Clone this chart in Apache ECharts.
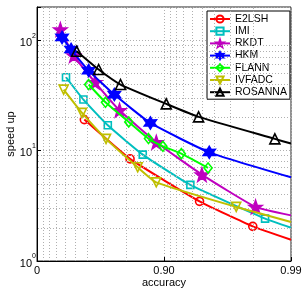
<!DOCTYPE html>
<html>
<head>
<meta charset="utf-8">
<script src="https://cdn.jsdelivr.net/npm/echarts@6/dist/echarts.min.js"></script>
<style>html,body{margin:0;padding:0;background:#fff}#c{width:305px;height:291px}</style>
</head>
<body>
<div id="c"></div>
<script>
// ---- data (accuracy, speed up) ----
const seriesNames = ['E2LSH', 'IMI', 'RKDT', 'HKM', 'FLANN', 'IVFADC', 'ROSANNA'];
const accE2LSH   = [0.576, 0.815, 0.9475, 0.980, 0.99];
const spdE2LSH   = [19.1, 8.41, 3.47, 2.06, 1.56];
const accIMI     = [0.409, 0.569, 0.723, 0.853, 0.938, 0.984, 0.99];
const spdIMI     = [46.2, 29.0, 16.96, 9.20, 4.89, 2.42, 2.0];
const accRKDT    = [0.345, 0.487, 0.651, 0.776, 0.885, 0.9497, 0.981, 0.99];
const spdRKDT    = [125, 72.6, 41.6, 23.2, 11.9, 6.06, 3.09, 2.59];
const accHKM     = [0.365, 0.461, 0.608, 0.754, 0.872, 0.956, 0.99];
const spdHKM     = [106, 82.4, 53.1, 32.2, 17.8, 9.65, 5.73];
const accFLANN   = [0.608, 0.711, 0.8105, 0.8675, 0.898, 0.927, 0.955];
const spdFLANN   = [39.7, 27.4, 18.2, 12.85, 10.94, 9.39, 6.97];
const accIVFADC  = [0.383, 0.558, 0.714, 0.839, 0.885, 0.973, 0.99];
const spdIVFADC  = [35.7, 21.97, 12.77, 7.06, 5.16, 3.09, 2.26];
const accROSANNA = [0.513, 0.673, 0.780, 0.904, 0.9466, 0.9866, 0.99];
const spdROSANNA = [79.5, 54.3, 39.7, 26.5, 20.2, 12.77, 11.58];
const xTickLabels = ['0', '0.90', '0.99'];   // at accuracy 0, 0.9, 0.99
const yTickExponents = ['0', '1', '2'];      // 10^0, 10^1, 10^2

// ---- styles ----
const colors = ['#ff0000', '#00bfbf', '#bf00bf', '#0000ff', '#00ff00', '#bfbf00', '#000000'];
function starPath(n, rIn) {
  let s = 'path://';
  for (let i = 0; i < 2 * n; i++) {
    const a = -Math.PI / 2 + i * Math.PI / n;
    const r = i % 2 === 0 ? 1 : rIn;
    s += (i === 0 ? 'M' : 'L') + (r * Math.cos(a)).toFixed(4) + ',' + (r * Math.sin(a)).toFixed(4) + ' ';
  }
  return s + 'Z';
}
const symbols = ['circle', 'rect', starPath(5, 0.4), starPath(6, 0.55), 'diamond', 'triangle', 'triangle'];
const symbolSizes = [8, 7, 13, 12, [8, 10], 9, 10];
const symbolRotates = [0, 0, 0, 0, 0, 180, 0];
const filled = [false, false, true, true, false, false, false];
const lastIsLineEnd = [true, true, true, true, false, true, true];

const accs = [accE2LSH, accIMI, accRKDT, accHKM, accFLANN, accIVFADC, accROSANNA];
const spds = [spdE2LSH, spdIMI, spdRKDT, spdHKM, spdFLANN, spdIVFADC, spdROSANNA];

const gridGray = '#b0b0b0';
const minorX = [], minorY = [];
for (const d of [0.01, 0.1]) for (let k = 2; k <= 9; k++) minorX.push({xAxis: +(k * d).toFixed(3)});
for (const d of [1, 10]) for (let k = 2; k <= 9; k++) minorY.push({yAxis: k * d});

const series = [{
  type: 'line', name: '_grid', data: [], silent: true, z: 1,
  markLine: {
    silent: true, symbol: 'none', animation: false, label: {show: false},
    lineStyle: {color: gridGray, type: [1, 2], width: 1},
    emphasis: {disabled: true},
    data: minorX.concat(minorY)
  }
}];
seriesNames.forEach((name, i) => {
  const data = accs[i].map((a, j) => {
    const item = {value: [1 - a, spds[i][j]]};
    if (lastIsLineEnd[i] && j === accs[i].length - 1) item.symbol = 'none';
    return item;
  });
  series.push({
    type: 'line', name: name, data: data, z: 3 + i,
    color: colors[i],
    symbol: symbols[i], symbolSize: symbolSizes[i], symbolRotate: symbolRotates[i],
    showAllSymbol: true, smooth: 0.15, animation: false,
    lineStyle: {color: colors[i], width: 2},
    itemStyle: {color: filled[i] ? colors[i] : 'rgba(255,255,255,0)', borderColor: colors[i], borderWidth: 1.6},
    emphasis: {disabled: true}
  });
});

const chart = echarts.init(document.getElementById('c'), null, {renderer: 'canvas'});
chart.setOption({
  animation: false,
  backgroundColor: '#fff',
  grid: {left: 37, right: 14, top: 7, bottom: 30, show: true, borderColor: '#222', borderWidth: 1,
         backgroundColor: 'transparent', containLabel: false, outerBoundsMode: 'none'},
  legend: {
    data: seriesNames, orient: 'vertical', left: 207, top: 11,
    backgroundColor: '#fff', borderColor: '#000', borderWidth: 1,
    padding: [2, 3, 1, 2], itemWidth: 20, itemHeight: 9, itemGap: 0.2,
    textStyle: {fontFamily: 'Liberation Sans', fontSize: 10.5, color: '#000', lineHeight: 12},
    selectedMode: false
  },
  xAxis: {
    type: 'log', logBase: 10, inverse: true, min: 0.01, max: 1,
    name: 'accuracy', nameLocation: 'middle', nameGap: 16, nameMoveOverlap: false,
    nameTextStyle: {fontFamily: 'Liberation Sans', fontSize: 11, color: '#000'},
    axisLine: {lineStyle: {color: '#000', width: 1}},
    axisTick: {inside: true, length: 4, lineStyle: {color: '#000'}},
    axisLabel: {
      fontFamily: 'Liberation Sans', fontSize: 11, color: '#000', margin: 4,
      formatter: v => { const k = Math.round(-Math.log10(v)); return Math.abs(-Math.log10(v) - k) < 1e-6 ? xTickLabels[k] : ''; }
    },
    splitLine: {show: true, lineStyle: {color: gridGray, type: [1, 2]}}
  },
  yAxis: {
    type: 'log', logBase: 10, min: 1, max: 200,
    name: 'speed up', nameLocation: 'middle', nameGap: 21, nameMoveOverlap: false,
    nameTextStyle: {fontFamily: 'Liberation Sans', fontSize: 11, color: '#000'},
    axisLine: {lineStyle: {color: '#000', width: 1}},
    axisTick: {inside: true, length: 4, lineStyle: {color: '#000'}},
    axisLabel: {
      margin: 1,
      formatter: v => { const k = Math.round(Math.log10(v)); return Math.abs(Math.log10(v) - k) < 1e-6 ? '{b|10}{s|' + yTickExponents[k] + '}' : ''; },
      rich: {
        b: {fontFamily: 'Liberation Sans', fontSize: 11, color: '#000', lineHeight: 16, verticalAlign: 'bottom'},
        s: {fontFamily: 'Liberation Sans', fontSize: 7, color: '#000', lineHeight: 16, verticalAlign: 'top'}
      }
    },
    splitLine: {show: true, lineStyle: {color: gridGray, type: [1, 2]}}
  },
  series: series
});
</script>
</body>
</html>
